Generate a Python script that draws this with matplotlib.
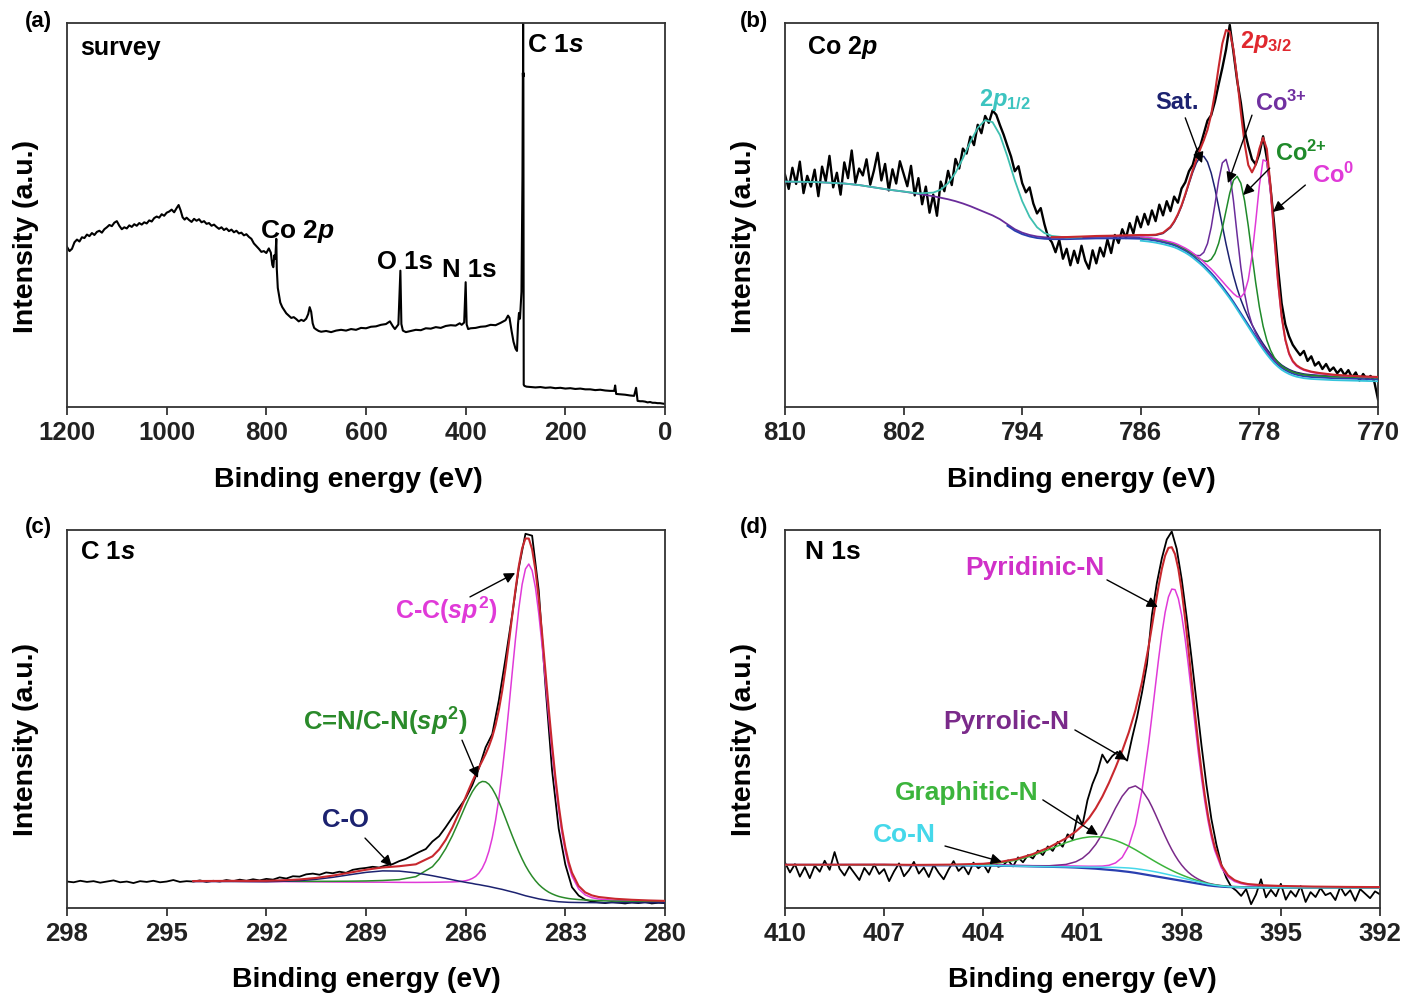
import numpy as np
import matplotlib
matplotlib.use("Agg")
import matplotlib.pyplot as plt

plt.rcParams['font.family'] = ['Liberation Sans', 'DejaVu Sans']
plt.rcParams['font.weight'] = 'bold'
plt.rcParams['mathtext.fontset'] = 'custom'
plt.rcParams['mathtext.rm'] = 'Liberation Sans:bold'
plt.rcParams['mathtext.bf'] = 'Liberation Sans:bold'
plt.rcParams['mathtext.it'] = 'Liberation Sans:italic:bold'

# ---------------- (a) survey spectrum: (binding energy, intensity) ----------------
survey_points = [
    (1200, 41.7), (1195, 40.6), (1190, 41.2), (1185, 42.9), (1180, 43.6), (1175, 43.1),
    (1170, 44.2), (1165, 44.0), (1160, 44.9), (1155, 44.5), (1150, 45.3), (1145, 44.8),
    (1140, 45.6), (1135, 45.9), (1130, 45.4), (1125, 46.3), (1120, 46.8), (1115, 47.4),
    (1110, 47.1), (1105, 48.0), (1100, 48.4), (1095, 47.2), (1090, 46.3), (1085, 46.8),
    (1080, 46.5), (1075, 47.3), (1070, 46.9), (1065, 47.6), (1060, 47.2), (1055, 47.9),
    (1050, 47.5), (1045, 48.1), (1040, 47.8), (1035, 48.6), (1030, 48.3), (1025, 49.2),
    (1020, 49.6), (1015, 49.3), (1010, 50.2), (1005, 49.8), (1000, 50.6), (995, 50.9),
    (990, 51.4), (985, 50.7), (980, 51.8), (976, 52.6), (972, 51.2), (968, 49.4),
    (964, 48.8), (960, 49.3), (955, 48.7), (950, 48.2), (945, 49.0), (940, 48.5),
    (935, 48.9), (930, 48.1), (925, 48.4), (920, 47.7), (915, 47.9), (910, 47.2),
    (905, 47.5), (900, 46.9), (895, 46.4), (890, 46.8), (885, 46.1), (880, 46.5),
    (875, 45.8), (870, 46.2), (865, 45.5), (860, 45.9), (855, 45.2), (850, 45.4),
    (845, 44.7), (840, 45.0), (835, 44.3), (830, 43.8), (825, 42.6), (820, 41.9),
    (815, 41.2), (810, 40.4), (805, 40.6), (800, 40.1), (795, 41.3), (791, 40.2),
    (788, 37.0), (786, 36.4), (784, 39.5), (782, 38.6), (780, 43.8), (779, 36.0),
    (777, 31.0), (775, 29.5), (772, 27.2), (768, 26.0), (764, 25.2), (760, 24.4),
    (755, 23.8), (750, 23.2), (745, 23.4), (740, 22.9), (735, 22.3), (730, 22.7),
    (725, 22.4), (720, 23.0), (716, 24.2), (713, 26.0), (710, 24.8), (707, 21.8),
    (704, 20.6), (700, 20.2), (695, 19.8), (690, 19.6), (680, 19.8), (670, 19.5),
    (660, 19.9), (650, 20.1), (640, 19.9), (630, 20.3), (620, 20.1), (610, 20.6),
    (600, 20.5), (590, 20.9), (580, 21.0), (570, 21.4), (560, 21.6), (552, 22.3),
    (546, 21.0), (542, 20.3), (535, 21.5), (531, 35.5), (529, 21.6), (526, 19.9),
    (520, 19.5), (510, 19.8), (500, 20.1), (490, 20.0), (480, 20.5), (470, 20.4),
    (460, 20.8), (450, 20.6), (440, 21.1), (430, 21.3), (420, 21.2), (412, 21.8),
    (408, 21.4), (403, 22.0), (400, 32.5), (398, 21.5), (395, 20.3), (390, 20.5),
    (380, 20.6), (370, 20.9), (360, 21.0), (350, 21.4), (340, 21.3), (330, 21.9),
    (320, 22.6), (315, 23.8), (312, 23.2), (308, 19.9), (304, 17.0), (300, 15.2),
    (297, 14.6), (295, 21.5), (293, 24.5), (291, 23.0), (288, 30.0), (286, 60.0),
    (285.2, 87.0), (284.9, 86.0), (284.7, 130.0), (284.5, 86.0), (284.2, 87.0),
    (283.8, 40.0), (283.5, 5.8), (282, 5.5), (278, 5.3), (270, 5.2), (260, 5.1),
    (250, 5.2), (240, 5.0), (230, 5.1), (220, 4.9), (210, 5.0), (200, 4.8),
    (190, 4.9), (180, 4.7), (170, 4.8), (160, 4.6), (150, 4.6), (140, 4.4),
    (130, 4.5), (120, 4.3), (110, 4.2), (102, 4.2), (100, 5.6), (98, 3.4),
    (90, 3.3), (80, 3.2), (70, 3.0), (62, 2.9), (58, 5.0), (55, 1.6), (50, 1.5),
    (45, 1.5), (40, 1.4), (35, 1.2), (30, 1.3), (25, 1.1), (20, 1.1), (15, 1.0),
    (10, 1.0), (5, 0.9), (0, 0.8),
]

# ---------------- (b) Co 2p ----------------
co2p_raw = [
    60.5, 56.8, 62.3, 58.1, 63.9, 55.7, 60.2, 57.4, 61.8, 54.9,
    62.6, 58.8, 65.4, 57.2, 61.0, 55.3, 63.7, 59.6, 66.8, 58.4,
    62.1, 60.3, 64.5, 57.9, 61.6, 66.2, 59.0, 63.3, 56.4, 61.9,
    58.2, 64.0, 60.7, 57.5, 62.8, 55.1, 59.6, 52.8, 57.4, 50.6,
    55.3, 49.8, 58.7, 56.2, 61.5, 57.8, 64.6, 62.1, 67.3, 66.0,
    70.4, 68.2, 73.5, 71.3, 75.8, 74.0, 77.2, 76.1, 73.4, 70.9,
    68.0, 65.2, 61.4, 62.7, 58.3, 55.9, 57.2, 53.0, 50.4, 51.8,
    47.6, 44.2, 42.9, 40.3, 43.5, 38.6, 41.2, 36.9, 40.7, 37.5,
    42.0, 38.1, 36.0, 40.8, 37.4, 41.5, 39.2, 43.6, 40.1, 44.8,
    42.7, 46.3, 44.0, 47.9, 45.2, 49.6, 46.8, 50.3, 47.5, 51.2,
    48.4, 52.7, 49.9, 53.6, 51.0, 54.8, 53.2, 56.9, 58.5, 61.4,
    63.0, 66.5, 67.8, 71.2, 74.6, 76.0, 79.5, 84.0, 88.3, 93.1,
    99.5, 92.4, 85.0, 79.2, 72.0, 68.0, 64.5, 63.2, 66.0, 70.5,
    64.8, 57.0, 47.5, 36.5, 27.0, 21.5, 18.4, 16.2, 14.8, 13.5,
    14.6, 12.0, 13.2, 10.8, 11.7, 9.9, 11.2, 9.4, 10.3, 8.8,
    9.9, 8.3, 9.6, 7.7, 9.0, 6.9, 8.6, 7.2, 8.1, 6.6,
    2.0,
]
co2p_background = [
    (810, 58.7), (808, 58.6), (806, 58.2), (805, 57.8), (804, 57.2), (803, 56.6),
    (802, 56.1), (801, 55.5), (800, 54.9), (799.5, 54.5), (799, 54.1), (798.5, 53.6),
    (798, 53.0), (797.5, 52.3), (797, 51.5), (796.5, 50.7), (796, 49.9), (795.5, 48.9),
    (795, 47.6), (794.5, 46.3), (794, 45.4), (793.5, 44.8), (793, 44.4), (792.5, 44.2),
    (792, 44.1), (791, 44.1), (790, 44.2), (789, 44.3), (788, 44.3), (787, 44.3),
    (786, 44.2), (785.5, 44.0), (785, 43.7), (784.5, 43.3), (784, 42.8), (783.75, 42.5),
    (783.5, 42.1), (783.25, 41.6), (783, 41.1), (782.75, 40.5), (782.5, 39.8),
    (782.25, 39.0), (782, 38.2), (781.75, 37.3), (781.5, 36.3), (781.25, 35.3),
    (781, 34.2), (780.75, 33.0), (780.5, 31.8), (780.25, 30.5), (780, 29.2),
    (779.75, 27.8), (779.5, 26.3), (779.25, 24.8), (779, 23.3), (778.75, 21.8),
    (778.5, 20.3), (778.25, 18.8), (778, 17.3), (777.75, 15.9), (777.5, 14.6),
    (777.25, 13.4), (777, 12.3), (776.75, 11.4), (776.5, 10.6), (776.25, 10.0),
    (776, 9.5), (775.75, 9.1), (775.5, 8.8), (775.25, 8.6), (775, 8.4), (774.5, 8.2),
    (774, 8.1), (773, 7.9), (772, 7.8), (771, 7.7), (770, 7.6),
]
# fitted components: center (eV), height, FWHM (eV), Lorentzian fraction
co2p_half_peak = (796.2, 24.5, 3.5, 0.0)
co2p_names = ['Sat.', 'Co3+', 'Co2+', 'Co0']
co2p_centers = [781.7, 780.25, 779.4, 777.6]
co2p_heights = [28.0, 34.0, 34.0, 50.0]
co2p_fwhm = [2.6, 1.6, 2.0, 1.5]
co2p_eta = [0.2, 0.0, 0.0, 0.3]

# ---------------- (c) C 1s ----------------
c1s_raw = [
    7.0, 6.8, 7.2, 6.9, 7.1, 6.7, 7.0, 7.3, 6.8, 7.0,
    6.6, 7.1, 6.9, 7.2, 6.8, 7.0, 7.4, 6.9, 7.1, 7.0,
    7.3, 6.9, 7.2, 7.0, 7.4, 7.1, 7.5, 7.2, 7.6, 7.3,
    7.7, 7.5, 8.1, 7.8, 8.4, 8.3, 8.9, 9.1, 8.8, 9.4,
    9.2, 9.6, 9.3, 10.1, 10.4, 10.6, 10.9, 10.7, 11.3, 11.6,
    12.4, 13.0, 13.9, 14.8, 15.6, 17.6, 19.0, 21.4, 24.0, 26.5,
    29.0, 32.5, 37.0, 42.5, 46.0, 55.0, 66.0, 77.5, 90.0, 99.0,
    98.5, 84.0, 59.0, 36.5, 21.0, 11.5, 5.5, 3.3, 2.2, 1.7,
    1.5, 1.3, 1.6, 1.4, 1.2, 1.5, 1.3, 1.6, 1.2, 1.4,
    1.3,
]
c1s_background = [
    (294.2, 7.0), (293.5, 7.0), (293.0, 7.0), (292.5, 6.95), (292.0, 6.9), (291.5, 6.9),
    (291.0, 6.85), (290.5, 6.8), (290.0, 6.75), (289.5, 6.7), (289.0, 6.65), (288.5, 6.6),
    (288.0, 6.5), (287.5, 6.4), (287.0, 6.3), (286.8, 6.25), (286.6, 6.2), (286.4, 6.1),
    (286.2, 6.0), (286.0, 5.9), (285.9, 5.85), (285.8, 5.8), (285.7, 5.7), (285.6, 5.65),
    (285.5, 5.55), (285.4, 5.45), (285.3, 5.35), (285.2, 5.2), (285.1, 5.05), (285.0, 4.9),
    (284.9, 4.75), (284.8, 4.55), (284.7, 4.35), (284.6, 4.15), (284.5, 3.95), (284.4, 3.7),
    (284.3, 3.45), (284.2, 3.2), (284.1, 3.0), (284.0, 2.8), (283.9, 2.6), (283.8, 2.4),
    (283.7, 2.25), (283.6, 2.1), (283.5, 1.95), (283.4, 1.85), (283.3, 1.75), (283.2, 1.65),
    (283.1, 1.6), (283.0, 1.55), (282.9, 1.5), (282.8, 1.48), (282.6, 1.45), (282.4, 1.43),
    (282.2, 1.42), (282.0, 1.4), (281.5, 1.4), (281.0, 1.4), (280.5, 1.4), (280.0, 1.4),
]
c1s_names = ['C-C', 'C=N/C-N', 'C-O']
c1s_centers = [284.1, 285.45, 288.2]
c1s_heights = [88.0, 28.0, 3.3]
c1s_fwhm = [1.3, 1.8, 3.2]
c1s_eta = [0.12, 0.3, 0.0]

# ---------------- (d) N 1s ----------------
n1s_raw = [
    12.0, 9.4, 11.6, 8.3, 10.8, 7.9, 11.2, 9.6, 12.5, 10.1,
    14.8, 10.4, 8.6, 11.0, 9.2, 7.4, 10.6, 8.8, 11.5, 9.0,
    10.3, 7.1, 9.7, 11.8, 8.4, 10.0, 12.2, 9.1, 10.7, 8.2,
    11.4, 9.3, 7.6, 10.2, 12.4, 9.8, 11.1, 8.9, 12.0, 10.5,
    11.6, 9.4, 12.8, 10.9, 11.3, 12.6, 11.0, 13.4, 12.1, 14.0,
    13.1, 15.2, 14.0, 16.3, 15.1, 17.5, 16.2, 19.5, 18.2, 24.5,
    22.0, 28.5, 32.8, 36.0, 40.6, 38.4, 40.2, 41.3, 40.0, 39.0,
    45.0, 50.5, 57.0, 64.5, 77.5, 86.0, 92.5, 97.5, 99.6, 95.0,
    87.0, 77.0, 66.0, 54.5, 43.0, 32.5, 23.5, 16.8, 11.5, 8.0,
    5.6, 4.6, 3.2, 5.0, 1.0, 3.6, 7.6, 2.8, 4.8, 3.1,
    6.4, 2.2, 4.5, 3.0, 5.8, 1.6, 4.2, 2.9, 5.3, 3.4,
    4.0, 2.1, 5.6, 3.3, 4.7, 1.9, 5.0, 3.8, 2.6, 4.4, 3.6,
]
n1s_background = [
    (410, 11.4), (409, 11.4), (408, 11.4), (407, 11.4), (406, 11.3), (405, 11.3),
    (404, 11.2), (403.5, 11.2), (403, 11.1), (402.5, 11.0), (402, 10.9), (401.5, 10.8),
    (401.2, 10.7), (401.0, 10.6), (400.8, 10.5), (400.6, 10.4), (400.4, 10.25),
    (400.2, 10.1), (400.0, 9.95), (399.8, 9.75), (399.6, 9.55), (399.4, 9.3),
    (399.2, 9.0), (399.0, 8.7), (398.9, 8.55), (398.8, 8.4), (398.7, 8.25), (398.6, 8.1),
    (398.5, 7.95), (398.4, 7.8), (398.3, 7.65), (398.2, 7.5), (398.1, 7.35), (398.0, 7.2),
    (397.9, 7.05), (397.8, 6.9), (397.7, 6.75), (397.6, 6.6), (397.5, 6.45), (397.4, 6.3),
    (397.3, 6.15), (397.2, 6.0), (397.1, 5.9), (397.0, 5.8), (396.8, 5.65), (396.6, 5.55),
    (396.4, 5.5), (396.2, 5.45), (396.0, 5.4), (395.5, 5.4), (395.0, 5.4), (394.0, 5.4),
    (393.0, 5.4), (392.0, 5.4),
]
n1s_names = ['Pyridinic-N', 'Pyrrolic-N', 'Graphitic-N', 'Co-N']
n1s_centers = [398.25, 399.4, 400.5, 399.0]
n1s_heights = [77.0, 23.0, 8.5, 1.2]
n1s_fwhm = [1.4, 1.75, 3.2, 2.6]
n1s_eta = [0.1, 0.1, 0.0, 0.0]

# tick labels
survey_ticks = [1200, 1000, 800, 600, 400, 200, 0]
co2p_ticks = [810, 802, 794, 786, 778, 770]
c1s_ticks = [298, 295, 292, 289, 286, 283, 280]
n1s_ticks = [410, 407, 404, 401, 398, 395, 392]


def gl_peak(e, center, height, fwhm, eta):
    """Gaussian-Lorentzian (pseudo-Voigt) line shape."""
    u = (np.asarray(e) - center) / (fwhm / 2.0)
    g = np.exp(-np.log(2.0) * u ** 2)
    lor = 1.0 / (1.0 + u ** 2)
    return height * ((1 - eta) * g + eta * lor)


def style_axes(ax, xlim, ticks, xlabel_x=0.5):
    ax.set_xlim(*xlim)
    ax.set_ylim(0, 100)
    ax.set_xticks(ticks)
    ax.set_xticklabels([str(t) for t in ticks])
    ax.set_yticks([])
    ax.tick_params(axis='x', direction='out', length=6, width=1.2, pad=4,
                   labelsize=18.5, colors='#222222')
    for sp in ax.spines.values():
        sp.set_linewidth(1.3)
        sp.set_color('#333333')
    ax.set_xlabel('Binding energy (eV)', fontsize=20.5, fontweight='bold')
    ax.set_ylabel('Intensity (a.u.)', fontsize=20.5, fontweight='bold')
    ax.xaxis.set_label_coords(xlabel_x, -0.157)
    ax.yaxis.set_label_coords(-0.047, 0.445)


def arrow(ax, tail, head):
    ax.annotate('', xy=head, xytext=tail,
                arrowprops=dict(arrowstyle='-|>', color='black', lw=1.0,
                                mutation_scale=16, shrinkA=0, shrinkB=0),
                zorder=8)


def label(ax, x, y, s, size, color='black'):
    ax.text(x, y, s, fontsize=size, fontweight='bold', color=color,
            va='center', ha='left', zorder=9)


fig = plt.figure(figsize=(14.06, 9.98), dpi=100)
ax_a = fig.add_axes([0.04765, 0.59218, 0.42532, 0.38477])
ax_b = fig.add_axes([0.55832, 0.59218, 0.42176, 0.38477])
ax_c = fig.add_axes([0.04765, 0.09018, 0.42532, 0.37876])
ax_d = fig.add_axes([0.55832, 0.09018, 0.42319, 0.37876])

# ---- (a) survey ----
sx, sy = zip(*survey_points)
ax_a.plot(sx, sy, color='black', lw=1.5)
style_axes(ax_a, (1200, 0), survey_ticks, xlabel_x=0.47)
label(ax_a, 1174, 93.5, 'survey', 18)
label(ax_a, 277, 94.3, r'C 1$\mathit{s}$', 19)
label(ax_a, 812, 45.6, r'Co 2$\mathit{p}$', 19)
label(ax_a, 578, 37.8, 'O 1s', 18.5)
label(ax_a, 447, 35.7, 'N 1s', 18.5)

# ---- (b) Co 2p ----
e_b = np.linspace(810, 770, len(co2p_raw))
ax_b.plot(e_b, co2p_raw, color='black', lw=1.7, zorder=2)
be_b, bg_b = (np.array(v) for v in zip(*co2p_background))
half = gl_peak(be_b, *co2p_half_peak)
comps_b = [gl_peak(be_b, c, h, w, et) for c, h, w, et in
           zip(co2p_centers, co2p_heights, co2p_fwhm, co2p_eta)]
m_left = be_b >= 789.9
m_right = be_b <= 792.0
m_comp = be_b <= 786.0
ax_b.plot(be_b[be_b >= 785.9], bg_b[be_b >= 785.9], color='#6a2c9a', lw=1.3, zorder=3)
ax_b.plot(be_b[be_b <= 795.0], bg_b[be_b <= 795.0] - 0.4, color='#2a3fb0', lw=1.3, zorder=3)
ax_b.plot(be_b[m_comp], bg_b[m_comp] - 0.9, color='#35c4dc', lw=1.3, zorder=3)
ax_b.plot(be_b[m_left], (bg_b + half)[m_left], color='#3fbfb0', lw=1.3, zorder=4)
comp_colors_b = ['#1c2270', '#6a2c9a', '#1f8a2a', '#e03ad8']
for comp, col in zip(comps_b, comp_colors_b):
    ax_b.plot(be_b[m_comp], (bg_b + comp)[m_comp], color=col, lw=1.1, zorder=4)
env_b = bg_b + sum(comps_b)
ax_b.plot(be_b[m_right], env_b[m_right], color='#c8282e', lw=1.5, zorder=5)
style_axes(ax_b, (810, 770), co2p_ticks)
label(ax_b, 808.5, 93.5, r'Co 2$\mathit{p}$', 18)
label(ax_b, 796.9, 80.0, r'2$\mathit{p}_{\mathrm{1/2}}$', 17, '#3cc4c0')
label(ax_b, 779.3, 95.0, r'2$\mathit{p}_{\mathrm{3/2}}$', 17, '#e0282e')
label(ax_b, 785.0, 79.2, 'Sat.', 17, '#1c2270')
label(ax_b, 778.3, 79.2, r'Co$^{3{+}}$', 17, '#7030a0')
label(ax_b, 776.95, 66.0, r'Co$^{2{+}}$', 17, '#1f8a2a')
label(ax_b, 774.45, 60.4, r'Co$^{0}$', 17, '#e03ad8')
arrow(ax_b, (783.0, 75.3), (781.87, 63.5))
arrow(ax_b, (778.5, 76.0), (780.12, 58.3))
arrow(ax_b, (777.3, 62.2), (779.1, 55.2))
arrow(ax_b, (774.9, 57.8), (777.08, 50.8))

# ---- (c) C 1s ----
e_c = np.linspace(298, 280, len(c1s_raw))
ax_c.plot(e_c, c1s_raw, color='black', lw=1.3, zorder=2)
be_c, bg_c = (np.array(v) for v in zip(*c1s_background))
comps_c = [gl_peak(be_c, c, h, w, et) for c, h, w, et in
           zip(c1s_centers, c1s_heights, c1s_fwhm, c1s_eta)]
comp_colors_c = ['#e03ad8', '#2a8a2a', '#1c2270']
for comp, col in zip(comps_c, comp_colors_c):
    ax_c.plot(be_c, bg_c + comp, color=col, lw=1.1, zorder=3)
ax_c.plot(be_c, bg_c + sum(comps_c), color='#c8282e', lw=1.5, zorder=4)
style_axes(ax_c, (298, 280), c1s_ticks)
label(ax_c, 297.6, 94.2, r'C 1$\mathit{s}$', 18.5)
label(ax_c, 288.13, 78.8, r'C-C($\mathit{sp}^{\mathrm{2}}$)', 18, '#e03ad8')
label(ax_c, 290.9, 49.2, r'C=N/C-N($\mathit{sp}^{\mathrm{2}}$)', 18.5, '#2a8a2a')
label(ax_c, 290.32, 23.3, 'C-O', 18.5, '#1c2270')
arrow(ax_c, (285.87, 82.3), (284.51, 88.6))
arrow(ax_c, (286.11, 44.4), (285.63, 34.4))
arrow(ax_c, (289.03, 18.5), (288.22, 11.1))

# ---- (d) N 1s ----
e_d = np.linspace(410, 392, len(n1s_raw))
ax_d.plot(e_d, n1s_raw, color='black', lw=1.3, zorder=2)
be_d, bg_d = (np.array(v) for v in zip(*n1s_background))
comps_d = [gl_peak(be_d, c, h, w, et) for c, h, w, et in
           zip(n1s_centers, n1s_heights, n1s_fwhm, n1s_eta)]
ax_d.plot(be_d, bg_d, color='#2a3fb0', lw=1.6, zorder=3)
comp_colors_d = ['#e03ad8', '#7a2a8a', '#3cb43c', '#45d8ea']
for comp, col in zip(comps_d, comp_colors_d):
    ax_d.plot(be_d, bg_d + comp, color=col, lw=1.1, zorder=3)
ax_d.plot(be_d, bg_d + sum(comps_d), color='#c8282e', lw=1.5, zorder=4)
style_axes(ax_d, (410, 392), n1s_ticks)
label(ax_d, 409.4, 94.2, 'N 1s', 19)
label(ax_d, 404.56, 89.9, 'Pyridinic-N', 19, '#d030c8')
label(ax_d, 405.22, 49.2, 'Pyrrolic-N', 19, '#7a2a8a')
label(ax_d, 406.67, 30.4, 'Graphitic-N', 19, '#3cb43c')
label(ax_d, 407.34, 19.3, 'Co-N', 19, '#45d8ea')
arrow(ax_d, (400.26, 86.8), (398.72, 79.6))
arrow(ax_d, (401.23, 47.1), (399.66, 39.2))
arrow(ax_d, (402.2, 28.6), (400.53, 19.3))
arrow(ax_d, (405.16, 16.4), (403.44, 12.2))

# panel letters
for lbl, x, y in [('(a)', 0.0178, 0.978), ('(b)', 0.526, 0.978),
                  ('(c)', 0.0178, 0.471), ('(d)', 0.526, 0.471)]:
    fig.text(x, y, lbl, fontsize=16, fontweight='bold', va='center', ha='left')

fig.savefig('out.png', dpi=100)
